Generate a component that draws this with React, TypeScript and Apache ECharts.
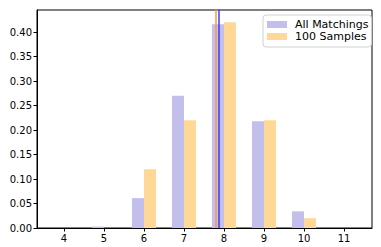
import React, { useEffect, useRef } from "react";
import * as echarts from "echarts";

const categories = [4, 5, 6, 7, 8, 9, 10, 11];
const allMatchings = [0.0, 0.003, 0.061, 0.27, 0.416, 0.218, 0.034, 0.0];
const samples100 = [0.0, 0.0, 0.12, 0.22, 0.42, 0.22, 0.02, 0.0];
const meanAll = 7.88;
const meanSamples = 7.8;
const yTicks = [0, 0.05, 0.1, 0.15, 0.2, 0.25, 0.3, 0.35, 0.4];

export default function App() {
  const ref = useRef<HTMLDivElement>(null);
  useEffect(() => {
    if (!ref.current) return;
    const chart = echarts.init(ref.current, undefined, { renderer: "svg" });
    const font = "DejaVu Sans";
    chart.setOption({
      animation: false,
      grid: {
        left: 37,
        right: 9,
        top: 10,
        bottom: 19,
        show: true,
        borderColor: "#000",
        borderWidth: 1,
        containLabel: false,
      },
      legend: {
        orient: "vertical",
        left: 263,
        top: 15,
        itemWidth: 20,
        itemHeight: 7,
        itemGap: 1,
        padding: [4, 3, 5, 4],
        borderColor: "#d0d0d0",
        borderWidth: 1,
        borderRadius: 3,
        backgroundColor: "rgba(255,255,255,0.8)",
        textStyle: { fontFamily: font, fontSize: 11, color: "#000", padding: [0, 0, 0, 3] },
        data: [
          { name: "All Matchings", icon: "rect" },
          { name: "100 Samples", icon: "rect" },
        ],
      },
      xAxis: {
        type: "value",
        min: 3.325,
        max: 11.7,
        splitLine: { show: false },
        axisLine: { show: true, onZero: false, lineStyle: { color: "#000" } },
        axisTick: { show: true, length: 3.5, lineStyle: { color: "#000" }, customValues: categories },
        axisLabel: {
          customValues: categories,
          fontFamily: font,
          fontSize: 10,
          color: "#000",
          margin: 5,
        },
      },
      yAxis: {
        type: "value",
        min: 0,
        max: 0.445,
        splitLine: { show: false },
        axisLine: { show: true, lineStyle: { color: "#000" } },
        axisTick: { show: true, length: 3.5, lineStyle: { color: "#000" }, customValues: yTicks },
        axisLabel: {
          customValues: yTicks,
          fontFamily: font,
          fontSize: 10,
          color: "#000",
          margin: 5,
          formatter: (v: number) => v.toFixed(2),
        },
      },
      series: [
        {
          name: "All Matchings",
          type: "bar",
          barWidth: 12,
          barGap: "0%",
          itemStyle: { color: "#c3bfec" },
          data: categories.map((c, i) => [c, allMatchings[i]]),
        },
        {
          name: "100 Samples",
          type: "bar",
          barWidth: 12,
          barGap: "0%",
          itemStyle: { color: "#ffd898" },
          data: categories.map((c, i) => [c, samples100[i]]),
        },
        {
          name: "means",
          type: "line",
          data: [],
          z: 10,
          markLine: {
            silent: true,
            symbol: "none",
            label: { show: false },
            data: [
              { xAxis: meanAll, lineStyle: { color: "#3b3bff", width: 1.5, type: "solid" } },
              { xAxis: meanSamples, lineStyle: { color: "#ff9a3b", width: 1.5, type: "solid" } },
            ],
          },
        },
      ],
    });
    return () => chart.dispose();
  }, []);
  return <div ref={ref} style={{ width: 381, height: 247, position: "absolute", left: 0, top: 0 }} />;
}
